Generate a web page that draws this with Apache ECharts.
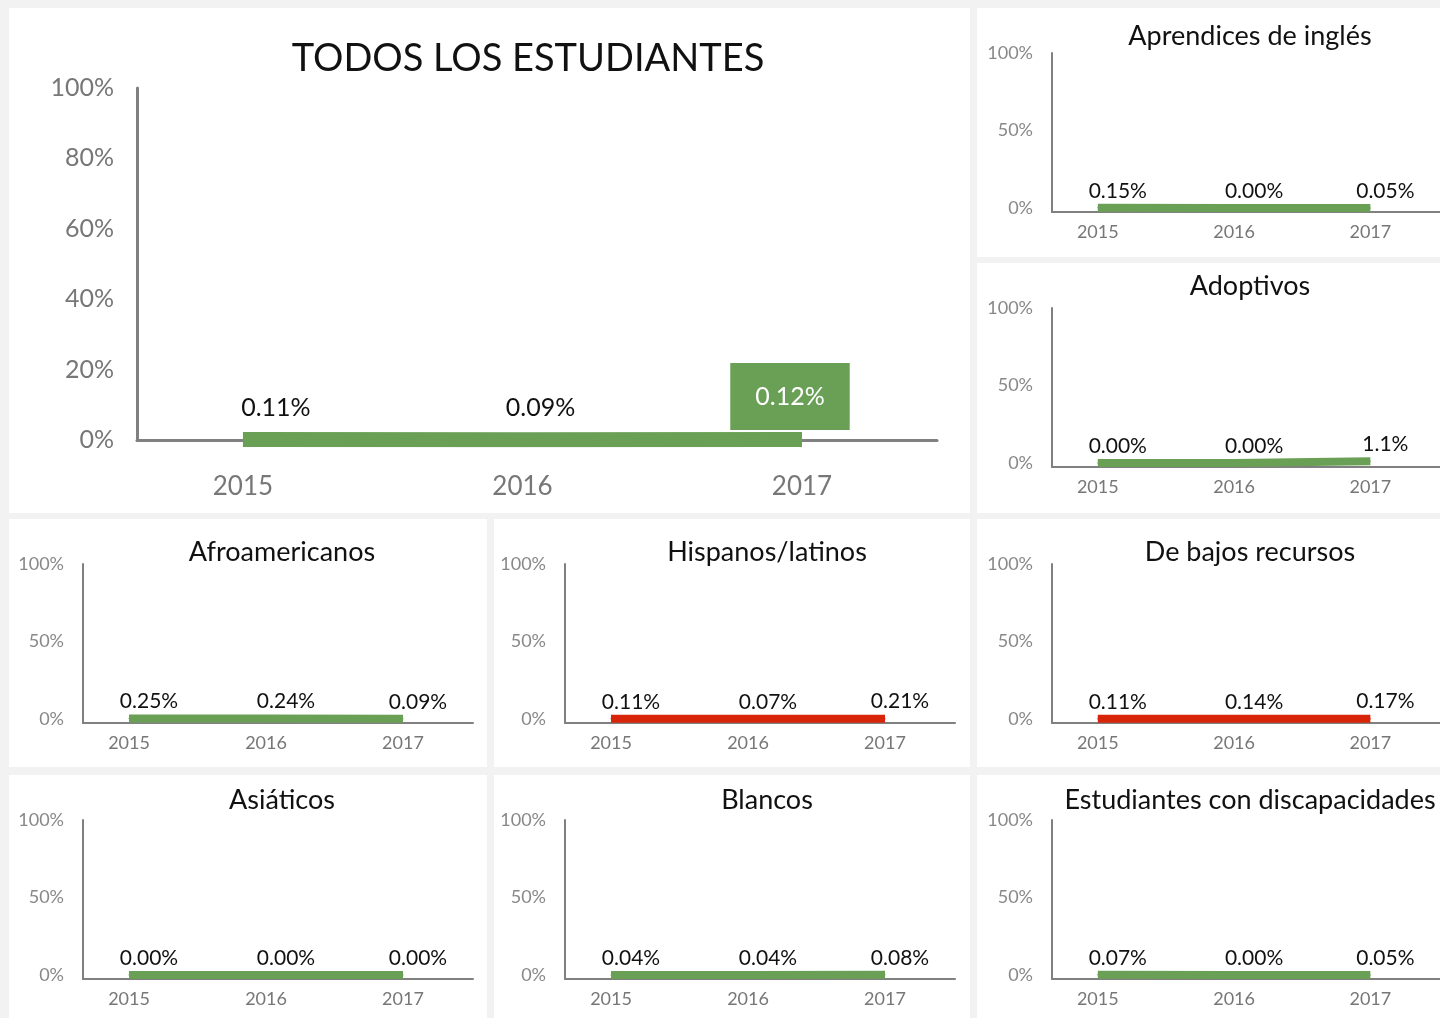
<!DOCTYPE html>
<html>
<head>
<meta charset="utf-8">
<script src="https://cdn.jsdelivr.net/npm/echarts@6/dist/echarts.min.js"></script>
<style>
  html, body { margin: 0; padding: 0; background: #f2f2f2; width: 1440px; height: 1018px; overflow: hidden; }
  .panel { position: absolute; background: #ffffff; }
</style>
</head>
<body>
<div id="p0" class="panel" style="left:9px;top:8px;width:961px;height:505px"></div>
<div id="p1" class="panel" style="left:977px;top:8px;width:463px;height:249px"></div>
<div id="p2" class="panel" style="left:977px;top:263px;width:463px;height:250px"></div>
<div id="p3" class="panel" style="left:9px;top:519px;width:478px;height:248px"></div>
<div id="p4" class="panel" style="left:494px;top:519px;width:476px;height:248px"></div>
<div id="p5" class="panel" style="left:977px;top:519px;width:463px;height:248px"></div>
<div id="p6" class="panel" style="left:9px;top:775px;width:478px;height:243px"></div>
<div id="p7" class="panel" style="left:494px;top:775px;width:476px;height:243px"></div>
<div id="p8" class="panel" style="left:977px;top:775px;width:463px;height:243px"></div>
<script>
// ---- data ----
const years = [2015, 2016, 2017];
const mainTitle = 'TODOS LOS ESTUDIANTES';
const mainValues = [0.11, 0.09, 0.12];
const mainTicks = [0, 20, 40, 60, 80, 100];
const smallTicks = [0, 50, 100];

const titles = ['Aprendices de inglés', 'Adoptivos', 'Afroamericanos', 'Hispanos/latinos',
  'De bajos recursos', 'Asiáticos', 'Blancos', 'Estudiantes con discapacidades'];
const aprendices = [0.15, 0.00, 0.05];
const adoptivos = [0.00, 0.00, 1.1];
const afroamericanos = [0.25, 0.24, 0.09];
const hispanos = [0.11, 0.07, 0.21];
const bajosRecursos = [0.11, 0.14, 0.17];
const asiaticos = [0.00, 0.00, 0.00];
const blancos = [0.04, 0.04, 0.08];
const discapacidades = [0.07, 0.00, 0.05];
const smallSeries = [aprendices, adoptivos, afroamericanos, hispanos, bajosRecursos, asiaticos, blancos, discapacidades];
const status = ['good', 'good', 'good', 'bad', 'bad', 'good', 'good', 'good'];

// ---- style ----
const FONT = 'Lato, "Noto Sans", sans-serif';
const GREEN = '#6aa056';
const RED = '#d82408';
const AXIS = '#808080';
const fmt = v => (v >= 1 ? v.toFixed(1) : v.toFixed(2)) + '%';

// main chart
(function () {
  const chart = echarts.init(document.getElementById('p0'), null, { renderer: 'canvas' });
  const mainOffsets = [[33, 0], [18, 0], [-12, 0]];
  const data = mainValues.map((v, i) => {
    const item = { value: [years[i], v], label: { offset: mainOffsets[i] } };
    if (i === 2) {
      item.label = { offset: mainOffsets[i], color: '#ffffff', backgroundColor: GREEN, padding: [21, 25], distance: 9 };
    }
    return item;
  });
  chart.setOption({
    animation: false,
    textStyle: { fontFamily: FONT },
    title: { text: mainTitle, left: 514, top: 27, textAlign: 'center',
      textStyle: { fontFamily: FONT, fontSize: 38, fontWeight: 'normal', color: '#111' } },
    grid: { left: 128, right: 33, top: 80, bottom: 73 },
    xAxis: {
      type: 'value', min: 2014.621, max: 2017.483,
      axisLine: { show: true, onZero: false, lineStyle: { color: AXIS, width: 3 } },
      axisTick: { show: false }, splitLine: { show: false },
      axisLabel: { customValues: years, formatter: v => String(v), color: '#777', fontSize: 26, margin: 34, fontFamily: FONT }
    },
    yAxis: {
      type: 'value', min: 0, max: 100, interval: 20,
      axisLine: { show: true, lineStyle: { color: AXIS, width: 3 } },
      axisTick: { show: false }, splitLine: { show: false },
      axisLabel: { formatter: v => v + '%', color: '#777', fontSize: 25, margin: 23, fontFamily: FONT }
    },
    series: [{
      type: 'line', data: data, symbol: 'rect', symbolSize: 1,
      itemStyle: { color: GREEN },
      lineStyle: { color: GREEN, width: 15, cap: 'butt' },
      label: { show: true, position: 'top', distance: 19, formatter: p => fmt(p.value[1]),
        color: '#111', fontSize: 25, fontFamily: FONT }
    }]
  });
})();

// small charts
const gridLefts = [75, 75, 74, 71, 75, 74, 71, 75];
const titleTops = [10, 5, 15, 15, 15, 7, 7, 7];
const labelOffsets = [20, 20, 15];
smallSeries.forEach((vals, k) => {
  const el = document.getElementById('p' + (k + 1));
  const w = el.clientWidth;
  const chart = echarts.init(el, null, { renderer: 'canvas' });
  const color = status[k] === 'bad' ? RED : GREEN;
  const gl = gridLefts[k];
  const right = w - (gl + 390);
  chart.setOption({
    animation: false,
    textStyle: { fontFamily: FONT },
    title: { text: titles[k], left: 268, top: titleTops[k], textAlign: 'center',
      textStyle: { fontFamily: FONT, fontSize: 27, fontWeight: 'normal', color: '#111' } },
    grid: { left: gl, right: Math.max(right, 0), top: 45, height: 159 },
    xAxis: {
      type: 'value', min: 2014.664, max: 2017.511,
      axisLine: { show: true, onZero: false, lineStyle: { color: AXIS, width: 2 } },
      axisTick: { show: false }, splitLine: { show: false },
      axisLabel: { customValues: years, formatter: v => String(v), color: '#777', fontSize: 18, margin: 11, fontFamily: FONT }
    },
    yAxis: {
      type: 'value', min: -2.6, max: 100,
      axisLine: { show: true, onZero: false, lineStyle: { color: AXIS, width: 2 } },
      axisTick: { show: false }, splitLine: { show: false },
      axisLabel: { customValues: smallTicks, formatter: v => v + '%', color: '#888', fontSize: 18, margin: 19, fontFamily: FONT }
    },
    series: [{
      type: 'line',
      data: vals.map((v, i) => ({ value: [years[i], v], label: { offset: [labelOffsets[i], 0] } })),
      symbol: 'rect', symbolSize: 1,
      itemStyle: { color: color },
      lineStyle: { color: color, width: 8, cap: 'butt' },
      label: { show: true, position: 'top', distance: 6, formatter: p => fmt(p.value[1]),
        color: '#111', fontSize: 21, fontFamily: FONT }
    }]
  });
});
</script>
</body>
</html>
